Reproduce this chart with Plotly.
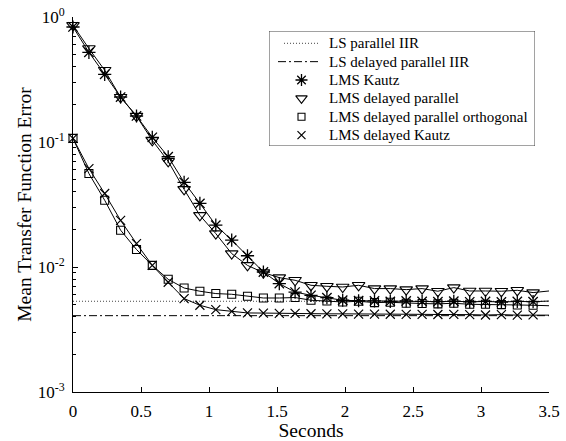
import plotly.graph_objects as go

# Sample instants (seconds) of the learning curves
times = [0.0, 0.117, 0.233, 0.35, 0.467, 0.583, 0.7, 0.817, 0.933, 1.05,
         1.167, 1.283, 1.4, 1.517, 1.633, 1.75, 1.867, 1.983, 2.1, 2.217,
         2.333, 2.45, 2.567, 2.683, 2.8, 2.917, 3.033, 3.15, 3.267, 3.383, 3.5]

lms_kautz = [0.832, 0.522, 0.348, 0.229, 0.1615, 0.109, 0.0762, 0.0476, 0.0323, 0.0216,
             0.0164, 0.0123, 0.00912, 0.00737, 0.0063, 0.00594, 0.00569, 0.00542, 0.00537, 0.00535,
             0.0053, 0.00535, 0.0053, 0.00528, 0.00532, 0.00527, 0.0053, 0.00525, 0.0053, 0.00528,
             0.00534]

lms_delayed_parallel = [0.858, 0.559, 0.375, 0.228, 0.161, 0.103, 0.0701, 0.0418, 0.0259, 0.0185,
                        0.0128, 0.0103, 0.00902, 0.00822, 0.00783, 0.00714, 0.00701, 0.00692, 0.00714, 0.00672,
                        0.00672, 0.00659, 0.00672, 0.0064, 0.00684, 0.00643, 0.00643, 0.0064, 0.00651, 0.00624,
                        0.00643]

lms_delayed_orthogonal = [0.107, 0.0559, 0.0342, 0.0197, 0.0138, 0.0103, 0.00797, 0.00679, 0.0064, 0.00613,
                          0.00605, 0.00583, 0.00565, 0.00565, 0.0057, 0.00542, 0.00535, 0.00525, 0.00532, 0.00519,
                          0.00522, 0.00513, 0.0051, 0.00507, 0.00513, 0.00503, 0.00503, 0.005, 0.00497, 0.00494,
                          0.0049]

lms_delayed_kautz = [0.107, 0.0613, 0.0387, 0.0236, 0.0154, 0.0103, 0.00755, 0.00559, 0.00494, 0.00456,
                     0.00442, 0.00429, 0.00428, 0.00425, 0.00425, 0.00423, 0.00422, 0.00422, 0.0042, 0.0042,
                     0.00419, 0.00418, 0.00418, 0.00417, 0.00418, 0.00416, 0.00413, 0.00416, 0.00412, 0.00414,
                     0.00412]

# Least-squares reference levels
ls_parallel_iir = 0.00532
ls_delayed_parallel_iir = 0.00408

x_range = [0, 3.5]
y_decades = [-3, -2, -1, 0]
y_tick_text = ["10<sup>-3</sup>", "10<sup>-2</sup>", "10<sup>-1</sup>", "10<sup>0</sup>"]
x_tick_vals = [0, 0.5, 1, 1.5, 2, 2.5, 3, 3.5]

FONT = "Liberation Serif, Times New Roman, serif"
INK = "black"

# canvas geometry (pixels)
W, H = 566, 441
ML, MR, MT, MB = 73, 17, 17, 49
PW, PH = W - ML - MR, H - MT - MB

styles = {
    "LS parallel IIR": dict(color="#444", width=1, dash="1px,2px"),
    "LS delayed parallel IIR": dict(color=INK, width=1, dash="8px,3px,2px,3px"),
}
curves = [
    ("LMS Kautz", lms_kautz, "asterisk-open", 11, 1.3),
    ("LMS delayed parallel", lms_delayed_parallel, "triangle-down-open", 11, 1.1),
    ("LMS delayed parallel orthogonal", lms_delayed_orthogonal, "square-open", 8, 1.1),
    ("LMS delayed Kautz", lms_delayed_kautz, "x-thin-open", 9, 1.2),
]

fig = go.Figure()

# reference levels
fig.add_trace(go.Scatter(x=x_range, y=[ls_parallel_iir] * 2, mode="lines",
                         line=styles["LS parallel IIR"], showlegend=False))
fig.add_trace(go.Scatter(x=x_range, y=[ls_delayed_parallel_iir] * 2, mode="lines",
                         line=styles["LS delayed parallel IIR"], showlegend=False))

# continuous learning curves
for name, vals, sym, size, lw in curves:
    fig.add_trace(go.Scatter(x=times, y=vals, mode="lines", showlegend=False,
                             hoverinfo="skip", line=dict(color=INK, width=1)))

# markers on the sampled points
for name, vals, sym, size, lw in curves:
    fig.add_trace(go.Scatter(
        x=times[:-1], y=vals[:-1], mode="markers", name=name, showlegend=False,
        cliponaxis=False,
        marker=dict(symbol=sym, size=size, color=INK, line=dict(color=INK, width=lw))))

# ---- key box, laid out in its own pixel-unit axes ----
box_l, box_r, box_t, box_b = 269, 535, 31, 146
row_y0, row_dy = 43.3, 18.35
text_x, mark_x = 327, 301.5

key_rows = ["LS parallel IIR", "LS delayed parallel IIR"] + [c[0] for c in curves]
line_spans = {"LS parallel IIR": (284, 318), "LS delayed parallel IIR": (278, 321)}
for i, label in enumerate(key_rows):
    ry = row_y0 + i * row_dy
    if label in line_spans:
        x0, x1 = line_spans[label]
        fig.add_trace(go.Scatter(x=[x0, x1], y=[ry, ry], xaxis="x2", yaxis="y2",
                                 mode="lines", line=styles[label], showlegend=False,
                                 hoverinfo="skip"))
    else:
        _, _, sym, size, lw = curves[i - 2]
        fig.add_trace(go.Scatter(x=[mark_x], y=[ry], xaxis="x2", yaxis="y2", mode="markers",
                                 marker=dict(symbol=sym, size=size - 1, color=INK,
                                             line=dict(color=INK, width=lw)),
                                 showlegend=False, hoverinfo="skip"))
    fig.add_annotation(x=text_x, y=ry, xref="x2", yref="y2", text=label, showarrow=False,
                       xanchor="left", yanchor="middle",
                       font=dict(family=FONT, size=15, color=INK))

fig.add_shape(type="rect", xref="x2", yref="y2", x0=box_l, x1=box_r, y0=box_t, y1=box_b,
              line=dict(color="#444", width=1), fillcolor="white", layer="below")

minor_vals = [m * 10.0 ** d for d in y_decades[:-1] for m in range(2, 10)]

fig.update_layout(
    width=W, height=H,
    margin=dict(l=ML, r=MR, t=MT, b=MB, autoexpand=False),
    paper_bgcolor="white", plot_bgcolor="white",
    font=dict(family=FONT, size=17, color=INK),
    showlegend=False,
    xaxis=dict(
        range=x_range, tickvals=x_tick_vals, ticks="inside", ticklen=5, tickcolor=INK,
        showline=True, linecolor=INK, linewidth=1, showgrid=False, zeroline=False,
        automargin=False, ticklabelstandoff=4,
        title=dict(text="Seconds", font=dict(family=FONT, size=19.5), standoff=4),
        tickfont=dict(family=FONT, size=17)),
    yaxis=dict(
        type="log", range=[-3, 0],
        tickvals=[10.0 ** d for d in y_decades], ticktext=y_tick_text,
        ticks="inside", ticklen=5, tickcolor=INK,
        minor=dict(tickmode="array", tickvals=minor_vals, ticks="inside", ticklen=3,
                   tickcolor=INK, showgrid=False),
        showline=True, linecolor=INK, linewidth=1, showgrid=False, zeroline=False,
        automargin=False, ticklabelstandoff=4,
        title=dict(text="Mean Transfer Function Error", font=dict(family=FONT, size=19.5),
                   standoff=0),
        tickfont=dict(family=FONT, size=17)),
    xaxis2=dict(domain=[(box_l - ML) / PW, (box_r - ML) / PW], range=[box_l, box_r],
                anchor="y2", visible=False, fixedrange=True),
    yaxis2=dict(domain=[1 - (box_b - MT) / PH, 1 - (box_t - MT) / PH], range=[box_b, box_t],
                anchor="x2", visible=False, fixedrange=True),
)

fig.write_html("out.html")
